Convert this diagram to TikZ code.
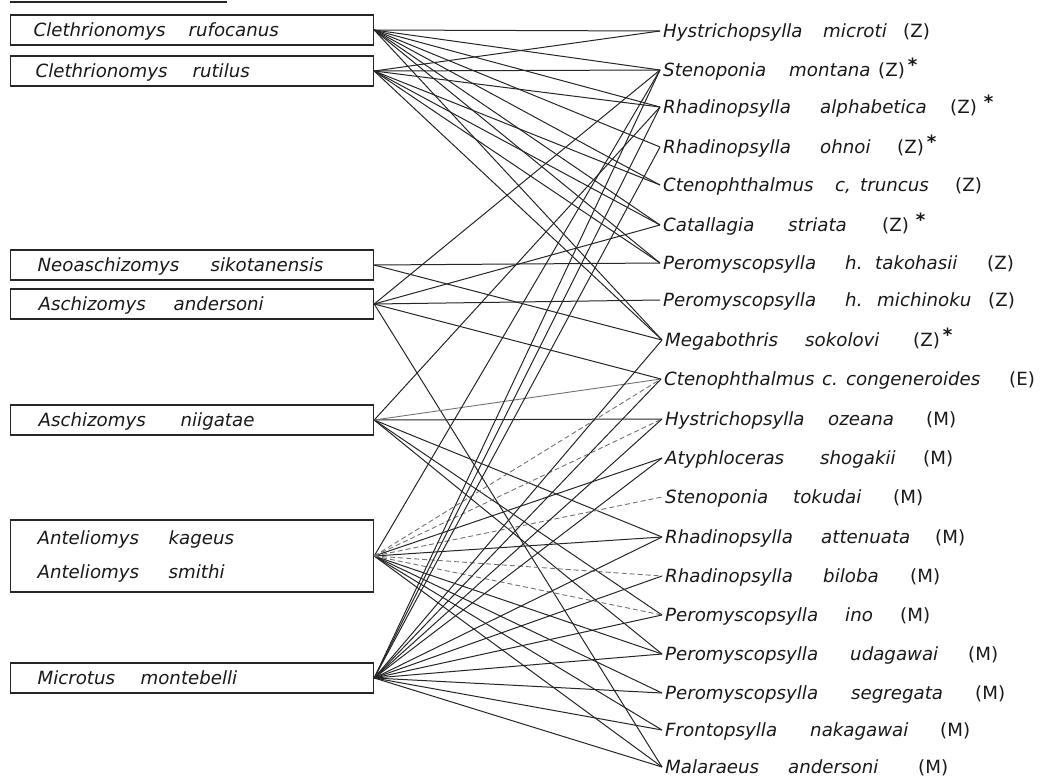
\documentclass[tikz,border=0pt]{standalone}
\usepackage{fontspec}
\setmainfont{DejaVu Sans}
\newcommand{\Lw}[2]{\makebox[#1pt][l]{#2}}
\newcommand{\st}{\,\raisebox{5pt}{\textup{\bfseries *}}}
\newcommand{\cl}[1]{\textup{(#1)}}
\begin{document}
\begin{tikzpicture}[x=1pt,y=-1pt,
  every node/.style={font=\fontsize{18.2}{34}\selectfont\itshape, text=black!90},
  host/.style={draw=black!85, line width=1.2pt, anchor=west, inner xsep=0pt, inner ysep=0pt,
    minimum height=30pt, text height=13pt, text depth=0pt},
  flea/.style={anchor=west, inner xsep=3pt, inner ysep=0pt, text height=13pt, text depth=0pt},
  link/.style={line width=1pt, black!85},
  llink/.style={line width=0.9pt, black!55},
  dlink/.style={line width=0.9pt, black!55, dash pattern=on 5pt off 3pt}]
\useasboundingbox (0,0) rectangle (1050,777);
\draw[line width=2pt, black!85] (10,1.5) -- (227,1.5);
% hosts
\node[host] (h1) at (10,30) {\makebox[363pt][l]{\hspace{23pt}\Lw{155}{Clethrionomys}rufocanus}};
\node[host] (h2) at (10,71) {\makebox[363pt][l]{\hspace{25pt}\Lw{157}{Clethrionomys}rutilus}};
\node[host] (h3) at (10,265) {\makebox[363pt][l]{\hspace{27pt}\Lw{173}{Neoaschizomys}sikotanensis}};
\node[host] (h4) at (10,304) {\makebox[363pt][l]{\hspace{28pt}\Lw{135}{Aschizomys}andersoni}};
\node[host] (h5) at (10,420) {\makebox[363pt][l]{\hspace{28pt}\Lw{142}{Aschizomys}niigatae}};
\node[host, minimum height=72pt, text height=, text depth=, align=left, text width=363pt] (h6) at (10,556)
  {\hspace*{27pt}\Lw{131}{Anteliomys}kageus\\ \hspace*{27pt}\Lw{131}{Anteliomys}smithi};
\node[host] (h7) at (10,678) {\makebox[363pt][l]{\hspace{27pt}\Lw{103}{Microtus}montebelli}};
% fleas
\node[flea] (f1) at (660,31) {\Lw{160}{Hystrichopsylla}\Lw{80}{microti}\cl{Z}};
\node[flea] (f2) at (660,70) {\Lw{126}{Stenoponia}\Lw{89}{montana}\cl{Z}\st};
\node[flea] (f3) at (660,107) {\Lw{157}{Rhadinopsylla}\Lw{130}{alphabetica}\cl{Z}\hspace{4pt}\st};
\node[flea] (f4) at (660,147) {\Lw{157}{Rhadinopsylla}\Lw{77}{ohnoi}\cl{Z}\st};
\node[flea] (f5) at (660,185) {\Lw{172}{Ctenophthalmus}\Lw{25}{c,}\Lw{95}{truncus}\cl{Z}};
\node[flea] (f6) at (660,225) {\Lw{125}{Catallagia}\Lw{94}{striata}\cl{Z}\hspace{4pt}\st};
\node[flea] (f7) at (660,263) {\Lw{182}{Peromyscopsylla}\Lw{30}{h.}\Lw{112}{takohasii}\cl{Z}};
\node[flea] (f8) at (660,300) {\Lw{182}{Peromyscopsylla}\Lw{32}{h.}\Lw{111}{michinoku}\cl{Z}};
\node[flea] (f9) at (662,340) {\Lw{140}{Megabothris}\Lw{108}{sokolovi}\cl{Z}\st};
\node[flea] (f10) at (661,379) {\Lw{158}{Ctenophthalmus}\Lw{24}{c.}\Lw{163}{congeneroides}\cl{E}};
\node[flea] (f11) at (662,419) {\Lw{163}{Hystrichopsylla}\Lw{98}{ozeana}\cl{M}};
\node[flea] (f12) at (662,458) {\Lw{155}{Atyphloceras}\Lw{103}{shogakii}\cl{M}};
\node[flea] (f13) at (662,497) {\Lw{128}{Stenoponia}\Lw{100}{tokudai}\cl{M}};
\node[flea] (f14) at (662,537) {\Lw{156}{Rhadinopsylla}\Lw{114}{attenuata}\cl{M}};
\node[flea] (f15) at (662,576) {\Lw{158}{Rhadinopsylla}\Lw{87}{biloba}\cl{M}};
\node[flea] (f16) at (662,615) {\Lw{180}{Peromyscopsylla}\Lw{55}{ino}\cl{M}};
\node[flea] (f17) at (662,654) {\Lw{185}{Peromyscopsylla}\Lw{118}{udagawai}\cl{M}};
\node[flea] (f18) at (662,693) {\Lw{186}{Peromyscopsylla}\Lw{124}{segregata}\cl{M}};
\node[flea] (f19) at (662,730) {\Lw{145}{Frontopsylla}\Lw{130}{nakagawai}\cl{M}};
\node[flea] (f20) at (662,767) {\Lw{123}{Malaraeus}\Lw{130}{andersoni}\cl{M}};
% links
\foreach \f in {1,2,3,4,5,6,7,9} \draw[link] (h1.east) -- (f\f.west);
\foreach \f in {1,2,3,5,6,7,9} \draw[link] (h2.east) -- (f\f.west);
\foreach \f in {7,9} \draw[link] (h3.east) -- (f\f.west);
\foreach \f in {2,6,8,10,20} \draw[link] (h4.east) -- (f\f.west);
\foreach \f in {3,11,14,16,17} \draw[link] (h5.east) -- (f\f.west);
\draw[llink] (h5.east) -- (f10.west);
\foreach \f in {2,12,14,17,18,19,20} \draw[link] (h6.east) -- (f\f.west);
\foreach \f in {10,11,13,15,16} \draw[dlink] (h6.east) -- (f\f.west);
\foreach \f in {2,3,4,9,10,11,12,14,15,16,17,18,19,20} \draw[link] (h7.east) -- (f\f.west);
\end{tikzpicture}
\end{document}
